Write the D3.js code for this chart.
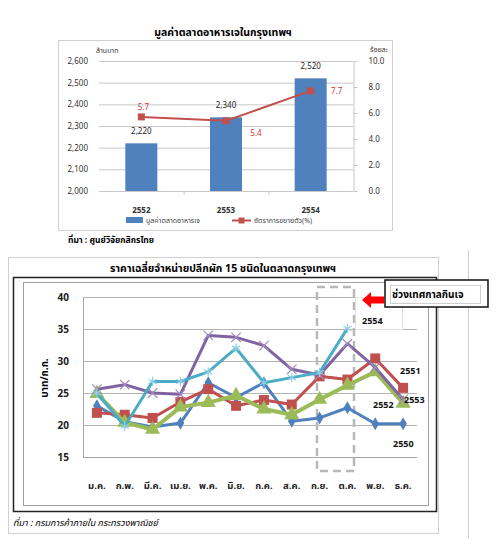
<!DOCTYPE html>
<html>
<head>
<meta charset="utf-8">
<script src="https://cdn.jsdelivr.net/npm/d3@7"></script>
<style>
  body { margin: 0; background: #fff; }
  text { font-family: Tahoma, "Noto Sans Thai", "DejaVu Sans", sans-serif; }
</style>
</head>
<body>
<svg id="page"></svg>
<script>
// chart 1: market value of vegetarian food in Bangkok
const years = ['2552', '2553', '2554'];
const marketValue = [2220, 2340, 2520];
const growthRate = [5.7, 5.4, 7.7];
const leftTicks = [2000, 2100, 2200, 2300, 2400, 2500, 2600];
const rightTicks = [0, 2, 4, 6, 8, 10];

// chart 2: average retail price of 15 vegetables
const months = ['ม.ค.', 'ก.พ.', 'มี.ค.', 'เม.ย.', 'พ.ค.', 'มิ.ย.', 'ก.ค.', 'ส.ค.', 'ก.ย.', 'ต.ค.', 'พ.ย.', 'ธ.ค.'];
const price2550 = [23.0, 20.5, 19.7, 20.3, 26.6, 24.3, 26.6, 20.6, 21.1, 22.7, 20.2, 20.2];
const price2551 = [21.9, 21.6, 21.1, 23.6, 25.6, 23.0, 23.9, 23.2, 27.6, 27.1, 30.4, 25.8];
const price2552 = [24.9, 20.4, 19.3, 22.8, 23.5, 24.6, 22.5, 21.6, 24.0, 26.2, 28.3, 23.4];
const price2553 = [25.6, 26.3, 25.0, 24.8, 34.0, 33.7, 32.4, 28.7, 27.8, 32.7, 29.0, 24.0];
const price2554 = [25.0, 19.8, 26.8, 26.8, 28.3, 32.0, 26.6, 27.4, 28.2, 35.1];
const priceTicks = [15, 20, 25, 30, 35, 40];

const width = 500;
const height = 550;

const svg = d3.select('#page').attr('width', width).attr('height', height);

// ---------- chart 1 ----------
const c1 = svg.append('g');

c1.append('rect')
  .attr('x', 58.5).attr('y', 40.5).attr('width', 334).attr('height', 190)
  .attr('fill', 'none').attr('stroke', '#d0d0d0');

c1.append('text')
  .attr('x', 223).attr('y', 36)
  .attr('text-anchor', 'middle')
  .style('font-size', '10.5px').style('font-weight', 'bold')
  .text('มูลค่าตลาดอาหารเจในกรุงเทพฯ');

const x1 = d3.scaleBand().domain(years).range([99, 353]);
const yL = d3.scaleLinear().domain([2000, 2600]).range([191, 61]);
const yR = d3.scaleLinear().domain([0, 10]).range([191, 61]);

// gridlines
c1.append('g')
  .selectAll('line')
  .data(leftTicks.slice(1))
  .join('line')
  .attr('x1', 99).attr('x2', 353)
  .attr('y1', d => yL(d) + 0.5).attr('y2', d => yL(d) + 0.5)
  .attr('stroke', '#c8c8c8');

// left axis
const axL = c1.append('g')
  .attr('transform', 'translate(99,0)')
  .call(d3.axisLeft(yL).tickValues(leftTicks).tickSize(0).tickPadding(11).tickFormat(d3.format(',')));
axL.select('.domain').remove();
axL.selectAll('text').style('font-size', '8px').attr('fill', '#333');

// right axis
const axR = c1.append('g')
  .attr('transform', 'translate(353.5,0)')
  .call(d3.axisRight(yR).tickValues(rightTicks).tickSize(4).tickPadding(11).tickFormat(d3.format('.1f')));
axR.select('.domain').attr('stroke', '#c8c8c8');
axR.selectAll('line').attr('stroke', '#c8c8c8');
axR.selectAll('text').style('font-size', '8px').attr('fill', '#333');

// bottom axis
c1.append('line')
  .attr('x1', 99).attr('x2', 353).attr('y1', 191.5).attr('y2', 191.5)
  .attr('stroke', '#c8c8c8');
c1.append('g')
  .selectAll('line')
  .data(years.slice(1))
  .join('line')
  .attr('x1', d => x1(d) + 0.5).attr('x2', d => x1(d) + 0.5)
  .attr('y1', 191).attr('y2', 195)
  .attr('stroke', '#c8c8c8');
c1.append('g')
  .selectAll('text')
  .data(years)
  .join('text')
  .attr('x', d => x1(d) + x1.bandwidth() / 2)
  .attr('y', 213)
  .attr('text-anchor', 'middle')
  .style('font-size', '8px').style('font-weight', 'bold').attr('fill', '#333')
  .text(d => d);

// axis titles
c1.append('text').attr('x', 96).attr('y', 53)
  .style('font-size', '7px').attr('fill', '#333').text('ล้านบาท');
c1.append('text').attr('x', 388).attr('y', 52).attr('text-anchor', 'end')
  .style('font-size', '7px').attr('fill', '#333').text('ร้อยละ');

// bars
const barW = 32;
c1.append('g')
  .selectAll('rect')
  .data(marketValue)
  .join('rect')
  .attr('x', (d, i) => x1(years[i]) + x1.bandwidth() / 2 - barW / 2)
  .attr('y', d => yL(d))
  .attr('width', barW)
  .attr('height', d => yL(2000) - yL(d))
  .attr('fill', '#4f81bd');

c1.append('g')
  .selectAll('text')
  .data(marketValue)
  .join('text')
  .attr('x', (d, i) => x1(years[i]) + x1.bandwidth() / 2)
  .attr('y', d => yL(d) - 9)
  .attr('text-anchor', 'middle')
  .style('font-size', '8px').attr('fill', '#222')
  .text(d => d3.format(',')(d));

// growth line
const growthLine = d3.line()
  .x((d, i) => x1(years[i]) + x1.bandwidth() / 2)
  .y(d => yR(d));

c1.append('path')
  .datum(growthRate)
  .attr('d', growthLine)
  .attr('fill', 'none').attr('stroke', '#c0504d').attr('stroke-width', 2);

c1.append('g')
  .selectAll('rect')
  .data(growthRate)
  .join('rect')
  .attr('x', (d, i) => x1(years[i]) + x1.bandwidth() / 2 - 3.5)
  .attr('y', d => yR(d) - 3.5)
  .attr('width', 7).attr('height', 7)
  .attr('fill', '#c0504d');

const rateOffsets = [[2, -10], [30, 12], [26, 0]];
c1.append('g')
  .selectAll('text')
  .data(growthRate)
  .join('text')
  .attr('x', (d, i) => x1(years[i]) + x1.bandwidth() / 2 + rateOffsets[i][0])
  .attr('y', (d, i) => yR(d) + rateOffsets[i][1] + 3)
  .attr('text-anchor', 'middle')
  .style('font-size', '8px').attr('fill', '#e03030')
  .text(d => d3.format('.1f')(d));

// legend
c1.append('rect').attr('x', 126).attr('y', 217).attr('width', 17).attr('height', 6).attr('fill', '#4f81bd');
c1.append('text').attr('x', 146).attr('y', 223)
  .style('font-size', '7px').attr('fill', '#444').text('มูลค่าตลาดอาหารเจ');
c1.append('line').attr('x1', 232).attr('x2', 251).attr('y1', 220.5).attr('y2', 220.5)
  .attr('stroke', '#c0504d').attr('stroke-width', 2);
c1.append('rect').attr('x', 238.5).attr('y', 217.5).attr('width', 6).attr('height', 6).attr('fill', '#c0504d');
c1.append('text').attr('x', 254).attr('y', 223)
  .style('font-size', '7px').attr('fill', '#444').text('อัตราการขยายตัว(%)');

c1.append('text').attr('x', 68).attr('y', 243)
  .style('font-size', '8.5px').style('font-weight', 'bold').text('ที่มา : ศูนย์วิจัยกสิกรไทย');

// ---------- chart 2 ----------
const c2 = svg.append('g');

// frames
c2.append('rect').attr('x', 8.5).attr('y', 257.5).attr('width', 430).attr('height', 276)
  .attr('fill', 'none').attr('stroke', '#d0d0d0');
c2.append('rect').attr('x', 13.5).attr('y', 277.5).attr('width', 423).attr('height', 234)
  .attr('fill', 'none').attr('stroke', '#222').attr('stroke-width', 1.5);
c2.append('rect').attr('x', 23.5).attr('y', 282.5).attr('width', 405).attr('height', 223)
  .attr('fill', 'none').attr('stroke', '#a0a0a0');
c2.append('line').attr('x1', 468.5).attr('x2', 468.5).attr('y1', 250).attr('y2', 538)
  .attr('stroke', '#d0d0d0');

c2.append('text')
  .attr('x', 223).attr('y', 272)
  .attr('text-anchor', 'middle')
  .style('font-size', '10.5px').style('font-weight', 'bold')
  .text('ราคาเฉลี่ยจำหน่ายปลีกผัก 15 ชนิดในตลาดกรุงเทพฯ');

const x2 = d3.scalePoint().domain(months).range([83, 417]).padding(0.5);
const y2 = d3.scaleLinear().domain([15, 40]).range([457, 297]);

c2.append('g')
  .selectAll('line')
  .data(priceTicks)
  .join('line')
  .attr('x1', 83).attr('x2', 417)
  .attr('y1', d => Math.round(y2(d)) + 0.5).attr('y2', d => Math.round(y2(d)) + 0.5)
  .attr('stroke', d => d === 15 ? '#a6a6a6' : '#b4b4b4');
c2.append('line').attr('x1', 83.5).attr('x2', 83.5).attr('y1', 297).attr('y2', 458)
  .attr('stroke', '#a6a6a6');

const axP = c2.append('g')
  .attr('transform', 'translate(83,0)')
  .call(d3.axisLeft(y2).tickValues(priceTicks).tickSize(0).tickPadding(14));
axP.select('.domain').remove();
axP.selectAll('text').style('font-size', '10px').style('font-weight', 'bold').attr('fill', '#222');

c2.append('g')
  .selectAll('text')
  .data(months)
  .join('text')
  .attr('x', d => x2(d))
  .attr('y', 489)
  .attr('text-anchor', 'middle')
  .style('font-size', '9.5px').style('font-weight', 'bold').attr('fill', '#222')
  .text(d => d);

c2.append('text')
  .attr('transform', 'translate(48,378) rotate(-90)')
  .attr('text-anchor', 'middle')
  .style('font-size', '10px').style('font-weight', 'bold')
  .text('บาท/ก.ก.');

// festival window
c2.append('rect')
  .attr('x', 317).attr('y', 287).attr('width', 37).attr('height', 184)
  .attr('fill', 'none').attr('stroke', '#b8b8b8').attr('stroke-width', 2.5)
  .attr('stroke-dasharray', '8,5');

// price lines
const priceLine = d3.line()
  .x((d, i) => x2(months[i]))
  .y(d => y2(d));

const series = [
  { name: '2550', values: price2550, color: '#4f81bd', width: 3, symbol: d3.symbolDiamond, size: 50, filled: true },
  { name: '2551', values: price2551, color: '#c0504d', width: 3, symbol: d3.symbolSquare, size: 100, filled: true },
  { name: '2552', values: price2552, color: '#9bbb59', width: 4, symbol: d3.symbolTriangle, size: 100, filled: true },
  { name: '2553', values: price2553, color: '#8064a2', width: 3, symbol: d3.symbolTimes, size: 60, filled: false, mark: '#a08cc0' },
  { name: '2554', values: price2554, color: '#4bacc6', width: 3, symbol: d3.symbolAsterisk, size: 60, filled: false, mark: '#8fd0e6' },
];

series.forEach(s => {
  const g = c2.append('g');
  g.append('path')
    .datum(s.values)
    .attr('d', priceLine)
    .attr('fill', 'none').attr('stroke', s.color).attr('stroke-width', s.width)
    .attr('stroke-linejoin', 'round');
  g.selectAll('path.mark')
    .data(s.values)
    .join('path')
    .attr('class', 'mark')
    .attr('transform', (d, i) => `translate(${x2(months[i])},${y2(d)})`)
    .attr('d', d3.symbol().type(s.symbol).size(s.size))
    .attr('fill', s.filled ? s.color : 'none')
    .attr('stroke', s.filled ? 'none' : s.mark)
    .attr('stroke-width', 1.2);
});

// series labels
const seriesLabels = [
  { text: '2554', x: 362, y: 324 },
  { text: '2551', x: 400, y: 374 },
  { text: '2552', x: 373, y: 408 },
  { text: '2553', x: 404, y: 403 },
  { text: '2550', x: 393, y: 447 },
];
c2.append('rect').attr('x', 355.5).attr('y', 297.5).attr('width', 47).attr('height', 32)
  .attr('fill', 'none').attr('stroke', '#e0e0e0');
c2.append('g')
  .selectAll('text')
  .data(seriesLabels)
  .join('text')
  .attr('x', d => d.x).attr('y', d => d.y)
  .style('font-size', '9px').style('font-weight', 'bold').attr('fill', '#111')
  .text(d => d.text);

// callout
c2.append('path')
  .attr('d', 'M362,300 L371,292 L371,296.5 L384,296.5 L384,303.5 L371,303.5 L371,308 Z')
  .attr('fill', '#ff0000');
c2.append('rect').attr('x', 385).attr('y', 280).attr('width', 103).attr('height', 27)
  .attr('fill', '#fff').attr('stroke', '#111').attr('stroke-width', 1.5);
c2.append('rect').attr('x', 390.5).attr('y', 285.5).attr('width', 90).attr('height', 18)
  .attr('fill', 'none').attr('stroke', '#d0d0d0');
c2.append('text').attr('x', 392).attr('y', 298)
  .style('font-size', '10px').style('font-weight', 'bold').text('ช่วงเทศกาลกินเจ');

c2.append('text').attr('x', 13).attr('y', 526)
  .style('font-size', '9px').style('font-style', 'italic').text('ที่มา : กรมการค้าภายใน กระทรวงพาณิชย์');
</script>
</body>
</html>
